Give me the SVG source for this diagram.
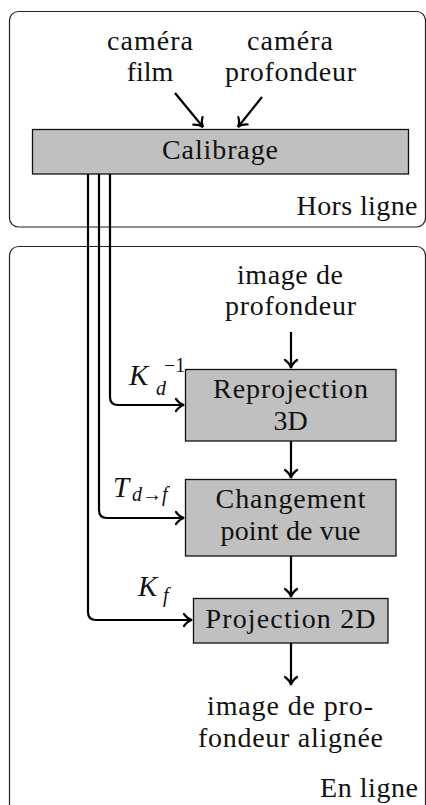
<svg xmlns="http://www.w3.org/2000/svg" width="426" height="805" viewBox="0 0 426 805">
<style>
.frame{fill:none;stroke:#222;stroke-width:1.2}
.box{fill:#c0c0c0;stroke:#111;stroke-width:1.3}
text{font-family:'Liberation Serif','Times New Roman',serif;fill:#111}
.t{font-size:28px;text-anchor:middle}
.m{font-style:italic;font-size:29px}
.s{font-style:italic;font-size:20px}
.u{font-size:20px}
.c{fill:none;stroke:#000;stroke-width:2.2;marker-end:url(#arr)}
</style>
<defs>
<marker id="arr" markerUnits="userSpaceOnUse" viewBox="-10 -8 12 16" markerWidth="12" markerHeight="16" refX="0" refY="0" orient="auto">
<path d="M-8,-6 C-5.5,-2.5 -2.5,-0.6 0,0 C-2.5,0.6 -5.5,2.5 -8,6" fill="none" stroke="#000" stroke-width="2.2" stroke-linecap="round"/>
</marker>
</defs>
<g id="hors-ligne">
<rect class="frame" x="9.5" y="11.5" width="416" height="215.5" rx="9"/>
<text class="t" x="357" y="215" textLength="121">Hors ligne</text>
</g>
<g id="en-ligne">
<rect class="frame" x="9.5" y="246.5" width="416" height="570" rx="9"/>
<text class="t" x="369" y="797" textLength="98">En ligne</text>
</g>
<g id="camera-film">
<text class="t" x="150" y="50" textLength="86">caméra</text>
<text class="t" x="150" y="81">film</text>
</g>
<g id="camera-profondeur">
<text class="t" x="290" y="50" textLength="86">caméra</text>
<text class="t" x="290.5" y="81" textLength="131">profondeur</text>
</g>
<g id="calibrage">
<rect class="box" x="32.5" y="129.5" width="376" height="44.5"/>
<text class="t" x="220" y="159" textLength="116">Calibrage</text>
</g>
<g id="image-profondeur">
<text class="t" x="290" y="284" textLength="106">image de</text>
<text class="t" x="290.5" y="315" textLength="131">profondeur</text>
</g>
<g id="reprojection">
<rect class="box" x="185.5" y="369.5" width="210.5" height="71.5"/>
<text class="t" x="290.5" y="398" textLength="155">Reprojection</text>
<text class="t" x="290.5" y="430">3D</text>
</g>
<g id="changement">
<rect class="box" x="185.5" y="479.5" width="210.5" height="76.5"/>
<text class="t" x="290.5" y="508" textLength="150">Changement</text>
<text class="t" x="290.5" y="540" textLength="140">point de vue</text>
</g>
<g id="projection">
<rect class="box" x="193.5" y="598.5" width="194.5" height="44.5"/>
<text class="t" x="290.5" y="628" textLength="170">Projection 2D</text>
</g>
<g id="image-alignee">
<text class="t" x="290" y="715" textLength="166">image de pro-</text>
<text class="t" x="290.5" y="747" textLength="185">fondeur alignée</text>
</g>
<g id="labels">
<text class="m" x="129" y="385">K</text>
<text class="s" x="156" y="395">d</text>
<text class="u" x="164" y="372">−1</text>
<text class="m" x="113" y="497">T</text>
<text class="s" x="132" y="501">d<tspan style="font-style:normal">→</tspan>f</text>
<text class="m" x="138" y="596">K</text>
<text class="s" x="163" y="602">f</text>
</g>
<g id="connectors">
<path class="c" d="M175,93 L203,127"/>
<path class="c" d="M262,97 L238,127"/>
<path class="c" d="M110,174 V397 Q110,405 118,405 H184"/>
<path class="c" d="M99,174 V510 Q99,518 107,518 H184"/>
<path class="c" d="M88,174 V612 Q88,620 96,620 H192"/>
<path class="c" d="M291,332 V368"/>
<path class="c" d="M291,441 V478"/>
<path class="c" d="M291,556 V597"/>
<path class="c" d="M291,643 V685"/>
</g>
</svg>
